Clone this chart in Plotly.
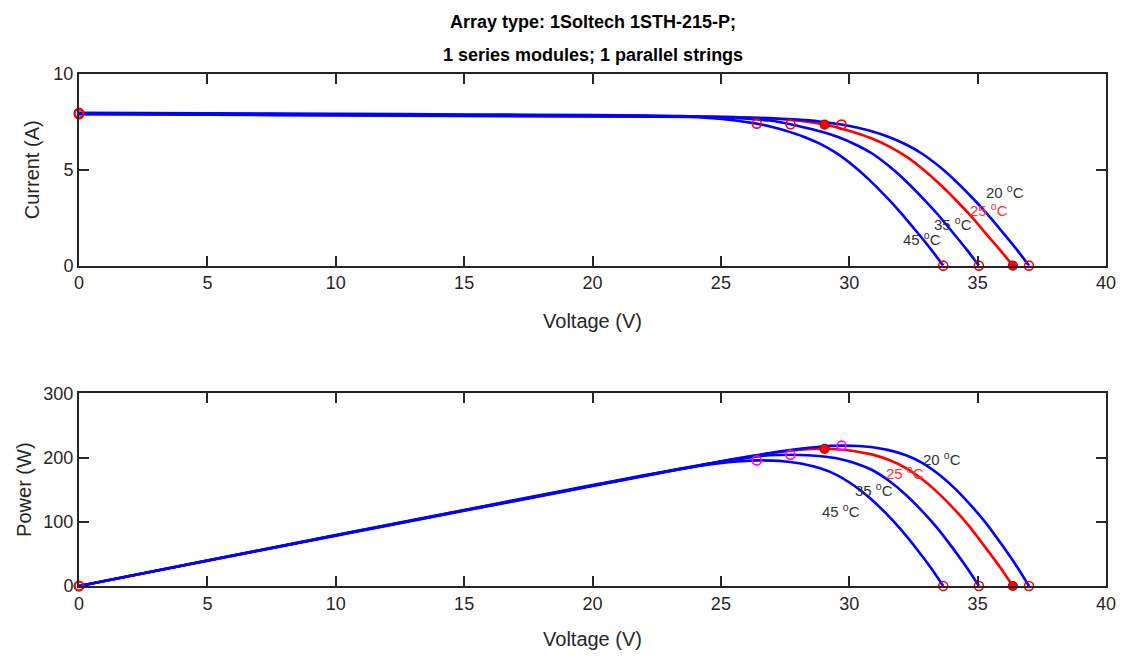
import plotly.graph_objects as go

# ---------------- data ----------------
temps = ["20", "25", "35", "45"]

v20 = [0, 5, 10, 15, 20, 25.34, 26.84, 27.84, 28.84, 29.7, 30.34, 30.84, 31.54, 32.21, 32.84, 33.51,
       34.14, 34.80, 35.34, 35.96, 36.54, 37.0]
i20 = [7.90, 7.87, 7.84, 7.81, 7.78, 7.75, 7.70, 7.63, 7.52, 7.36, 7.19, 7.02, 6.71, 6.32, 5.84, 5.17,
       4.42, 3.53, 2.75, 1.76, 0.81, 0]
p20 = [0, 39.4, 78.4, 117.2, 155.6, 196.4, 206.7, 212.4, 216.9, 218.6, 218.1, 216.5, 211.6, 203.6, 191.8, 173.2,
       150.9, 122.8, 97.2, 63.3, 29.6, 0]

v25 = [0, 5, 10, 15, 20, 24.71, 26.21, 27.21, 28.21, 29.04, 29.71, 30.21, 30.91, 31.58, 32.21, 32.88,
       33.51, 34.17, 34.71, 35.33, 35.91, 36.37]
i25 = [7.92, 7.89, 7.86, 7.83, 7.80, 7.77, 7.72, 7.65, 7.54, 7.36, 7.14, 6.95, 6.62, 6.20, 5.70, 5.02,
       4.27, 3.40, 2.63, 1.66, 0.76, 0]
p25 = [0, 39.5, 78.6, 117.5, 156.0, 192.0, 202.3, 208.2, 212.7, 213.7, 212.1, 210.0, 204.6, 195.8, 183.6, 165.1,
       143.1, 116.2, 91.3, 58.6, 27.3, 0]

v35 = [0, 5, 10, 15, 20, 23.39, 24.89, 25.89, 26.89, 27.71, 28.39, 28.89, 29.59, 30.26, 30.89, 31.56,
       32.19, 32.85, 33.39, 34.01, 34.59, 35.05]
i35 = [7.95, 7.92, 7.89, 7.86, 7.83, 7.80, 7.75, 7.68, 7.57, 7.38, 7.17, 7.00, 6.70, 6.31, 5.85, 5.18,
       4.43, 3.54, 2.76, 1.77, 0.81, 0]
p35 = [0, 39.6, 78.9, 117.9, 156.6, 182.4, 192.9, 198.8, 203.6, 204.5, 203.6, 202.2, 198.3, 190.9, 180.7, 163.5,
       142.6, 116.3, 92.2, 60.2, 28.0, 0]

v45 = [0, 5, 10, 15, 20, 22, 23.5, 24.5, 25.5, 26.4, 27.0, 27.5, 28.2, 28.87, 29.5, 30.17,
       30.8, 31.46, 32.0, 32.62, 33.2, 33.66]
i45 = [7.98, 7.95, 7.92, 7.89, 7.86, 7.83, 7.78, 7.71, 7.59, 7.41, 7.23, 7.05, 6.74, 6.35, 5.87, 5.20,
       4.45, 3.56, 2.77, 1.78, 0.82, 0]
p45 = [0, 39.8, 79.2, 118.4, 157.2, 172.3, 182.8, 188.9, 193.5, 195.6, 195.2, 193.9, 190.1, 183.3, 173.2, 156.9,
       137.1, 112.0, 88.6, 58.1, 27.2, 0]

# key points: short-circuit, maximum power, open-circuit (order: 20, 25, 35, 45)
isc = [7.90, 7.92, 7.95, 7.98]
mpp_v = [29.7, 29.04, 27.71, 26.4]
mpp_i = [7.36, 7.36, 7.38, 7.41]
mpp_p = [218.6, 213.7, 204.5, 195.6]
voc = [37.0, 36.37, 35.05, 33.66]

x_ticks = [0, 5, 10, 15, 20, 25, 30, 35, 40]
i_ticks = [0, 5, 10]
p_ticks = [0, 100, 200, 300]

# label anchor positions (data coords)
lbl_iv_v = [36.05, 35.45, 34.05, 32.85]
lbl_iv_i = [3.88, 2.95, 2.22, 1.42]
lbl_pv_v = [33.6, 32.16, 30.95, 29.67]
lbl_pv_p = [199, 176, 151, 117]

curves = {"20": (v20, i20, p20), "25": (v25, i25, p25),
          "35": (v35, i35, p35), "45": (v45, i45, p45)}

BLUE = "#0000FF"
RED = "#FF0000"
MAG = "#FF00FF"
FONT = "Arial, Liberation Sans, sans-serif"
AX = "#262626"

fig = go.Figure()

# red (25 C) curve underneath, blue curves on top
order = ["25", "20", "35", "45"]
for t in order:
    v, i, p = curves[t]
    col = RED if t == "25" else BLUE
    ln = dict(color=col, width=2.6, shape="spline", smoothing=0.6)
    fig.add_trace(go.Scatter(x=v, y=i, mode="lines", line=ln,
                             xaxis="x", yaxis="y", showlegend=False, hoverinfo="skip"))
    fig.add_trace(go.Scatter(x=v, y=p, mode="lines", line=ln,
                             xaxis="x2", yaxis="y2", showlegend=False, hoverinfo="skip"))

open_red = dict(symbol="circle-open", size=9, color=RED, line=dict(width=1.6, color=RED))
filled_red = dict(symbol="circle", size=9, color=RED, line=dict(width=1.2, color="#B00000"))
open_mag = dict(symbol="circle-open", size=9, color=MAG, line=dict(width=1.6, color=MAG))

for k, t in enumerate(temps):
    is25 = t == "25"
    mk = filled_red if is25 else open_red
    # I-V key points
    fig.add_trace(go.Scatter(x=[0], y=[isc[k]], mode="markers", marker=open_red, cliponaxis=False,
                             xaxis="x", yaxis="y", showlegend=False, hoverinfo="skip"))
    fig.add_trace(go.Scatter(x=[mpp_v[k], voc[k]], y=[mpp_i[k], 0], mode="markers", marker=mk, cliponaxis=False,
                             xaxis="x", yaxis="y", showlegend=False, hoverinfo="skip"))
    # P-V key points
    fig.add_trace(go.Scatter(x=[0], y=[0], mode="markers", marker=open_red, cliponaxis=False,
                             xaxis="x2", yaxis="y2", showlegend=False, hoverinfo="skip"))
    fig.add_trace(go.Scatter(x=[mpp_v[k]], y=[mpp_p[k]], mode="markers", marker=(filled_red if is25 else open_mag),
                             cliponaxis=False, xaxis="x2", yaxis="y2", showlegend=False, hoverinfo="skip"))
    fig.add_trace(go.Scatter(x=[voc[k]], y=[0], mode="markers", marker=mk, cliponaxis=False,
                             xaxis="x2", yaxis="y2", showlegend=False, hoverinfo="skip"))

annotations = []
for k, t in enumerate(temps):
    col = "#FF3030" if t == "25" else "#333333"
    txt = f"{t} <sup>o</sup>C"
    annotations.append(dict(x=lbl_iv_v[k], y=lbl_iv_i[k], xref="x", yref="y", text=txt, showarrow=False,
                            font=dict(family=FONT, size=15, color=col)))
    annotations.append(dict(x=lbl_pv_v[k], y=lbl_pv_p[k], xref="x2", yref="y2", text=txt, showarrow=False,
                            font=dict(family=FONT, size=15, color=col)))

# title lines
annotations.append(dict(x=0.5, y=1 + (74 - 22) / 513, xref="paper", yref="paper", yanchor="middle",
                        text="<b>Array type: 1Soltech 1STH-215-P;</b>", showarrow=False,
                        font=dict(family=FONT, size=18, color="black")))
annotations.append(dict(x=0.5, y=1 + (74 - 55) / 513, xref="paper", yref="paper", yanchor="middle",
                        text="<b>1 series modules; 1 parallel strings</b>", showarrow=False,
                        font=dict(family=FONT, size=18, color="black")))

axis_common = dict(showgrid=False, zeroline=False, showline=True, linecolor=AX, linewidth=2,
                   mirror="allticks", ticks="inside", ticklen=10, tickwidth=2, tickcolor=AX,
                   tickfont=dict(family=FONT, size=18, color=AX))

fig.update_layout(
    width=1128, height=659,
    margin=dict(l=79, r=18, t=74, b=72),
    paper_bgcolor="white", plot_bgcolor="white",
    annotations=annotations,
    xaxis=dict(axis_common, range=[0, 40], tickvals=x_ticks, anchor="y",
               title=dict(text="Voltage (V)", font=dict(family=FONT, size=20, color=AX), standoff=22)),
    yaxis=dict(axis_common, range=[0, 10], tickvals=i_ticks, domain=[1 - 192 / 513, 1], anchor="x",
               title=dict(text="Current (A)", font=dict(family=FONT, size=20, color=AX), standoff=8)),
    xaxis2=dict(axis_common, range=[0, 40], tickvals=x_ticks, anchor="y2",
                title=dict(text="Voltage (V)", font=dict(family=FONT, size=20, color=AX), standoff=19)),
    yaxis2=dict(axis_common, range=[0, 300], tickvals=p_ticks, domain=[0, 193 / 513], anchor="x2",
                title=dict(text="Power (W)", font=dict(family=FONT, size=20, color=AX), standoff=6)),
)

fig.write_html("out.html")
